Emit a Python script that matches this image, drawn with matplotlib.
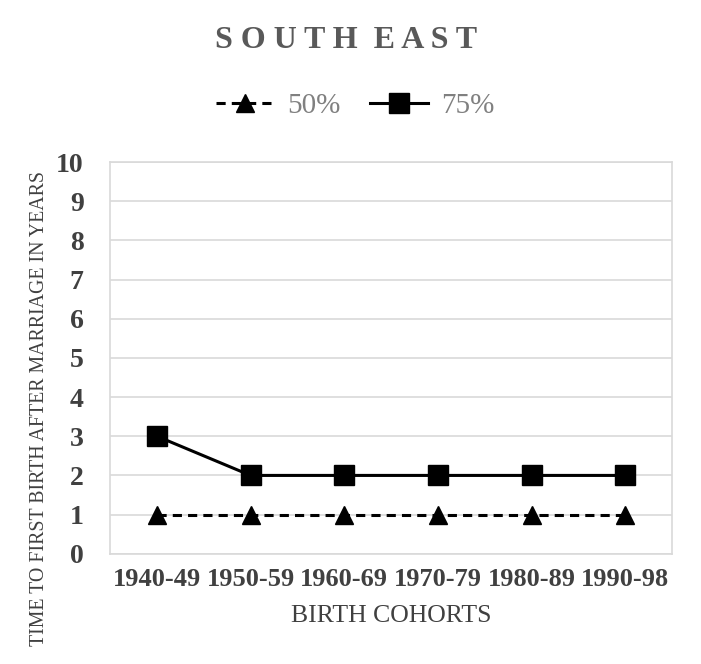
"""South East: time to first birth after marriage by birth cohort"""

import matplotlib
matplotlib.use("Agg")
import matplotlib.pyplot as plt

cohorts = ["1940-49", "1950-59", "1960-69", "1970-79", "1980-89", "1990-98"]
p50 = [1, 1, 1, 1, 1, 1]
p75 = [3, 2, 2, 2, 2, 2]
yticks = list(range(0, 11))

plt.rcParams["font.family"] = ["Liberation Serif", "DejaVu Serif"]

fig = plt.figure(figsize=(7.01, 6.64), dpi=100)
ax = fig.add_axes([0.157, 0.166, 0.802, 0.59])

x = range(len(cohorts))
ax.plot(x, p50, color="black", linestyle=(0, (3, 2)), linewidth=2.2,
        marker="^", markersize=13, label="50%")
ax.plot(x, p75, color="black", linestyle="-", linewidth=2.2,
        marker="s", markersize=14, label="75%")

ax.set_xlim(-0.5, len(cohorts) - 0.5)
ax.set_ylim(0, 10)
ax.set_yticks(yticks)
ax.set_yticklabels([str(t) for t in yticks], fontsize=20, fontweight="bold",
                   color="#404040")
ax.set_xticks(list(x))
ax.set_xticklabels(cohorts, fontsize=19, fontweight="bold", color="#404040")
ax.tick_params(length=0)
ax.tick_params(axis="x", pad=10)
ax.tick_params(axis="y", pad=19)
ax.grid(axis="y", color="#d9d9d9", linewidth=1.2)
ax.set_axisbelow(True)
for s in ax.spines.values():
    s.set_color("#d9d9d9")
    s.set_linewidth(1.2)

fig.text(0.558, 1 - 616 / 664, "BIRTH COHORTS", ha="center", va="center",
         fontsize=18.5, color="#404040")
fig.text(40 / 701, 1 - 409 / 664, "TIME TO FIRST BIRTH AFTER MARRIAGE IN YEARS",
         ha="center", va="center", rotation=90, fontsize=14.3, color="#404040")

fig.text(346 / 701, 1 - 41 / 664, "S O U T H  E A S T", ha="center",
         va="center", fontsize=23, fontweight="bold", color="#595959")

leg = ax.legend(loc="center", ncol=2, frameon=False,
                fontsize=21, labelcolor="#808080", handlelength=2.0,
                handletextpad=0.45, columnspacing=1.0)
leg.set_bbox_to_anchor((355 / 701, 1 - 106 / 664), transform=fig.transFigure)

fig.savefig("out.png", dpi=100)
